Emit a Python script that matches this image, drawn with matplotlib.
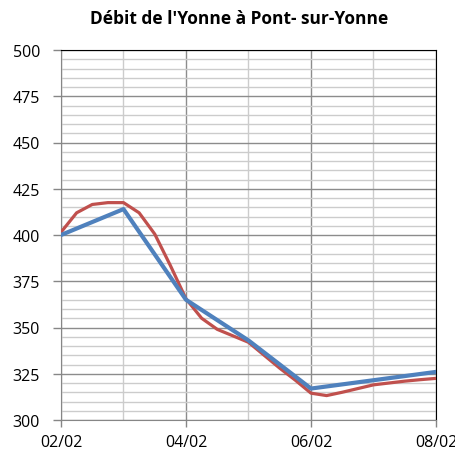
import numpy as np
import matplotlib.pyplot as plt
from matplotlib.ticker import MultipleLocator

# days since 02/02
day_labels = ["02/02", "04/02", "06/02", "08/02"]

# daily series (blue)
blue_days = [0, 1, 2, 3, 4, 5, 6]
blue_flow = [400, 414, 365, 343, 317, 321.5, 326]

# 6-hourly series (red)
red_days = [0, 0.25, 0.5, 0.75,
            1, 1.25, 1.5, 1.75,
            2, 2.25, 2.5, 2.75,
            3, 3.25, 3.5, 3.75,
            4, 4.25, 4.5, 4.75,
            5, 5.25, 5.5, 5.75,
            6]
red_flow = [401.5, 412, 416.5, 417.5,
            417.5, 412, 400.5, 383.5,
            365.5, 355, 349, 345.5,
            342, 335, 328, 321.5,
            314.5, 313.2, 315, 317,
            319, 320, 321, 321.8,
            322.5]

plt.rcParams['font.family'] = ['Open Sans', 'DejaVu Sans']

fig = plt.figure(figsize=(4.56, 4.52), dpi=100)
ax = fig.add_axes([61 / 456, 1 - 421 / 452, 375 / 456, 370 / 452])

ax.set_xlim(0, 6)
ax.set_ylim(300, 500)

ax.yaxis.set_major_locator(MultipleLocator(25))
ax.yaxis.set_minor_locator(MultipleLocator(5))
ax.xaxis.set_major_locator(MultipleLocator(2))
ax.xaxis.set_minor_locator(MultipleLocator(1))
ax.set_xticks([0, 2, 4, 6])
ax.set_xticklabels(day_labels)

ax.grid(which='minor', color='#cccccc', linewidth=1)
ax.grid(which='major', color='#8c8c8c', linewidth=1)
ax.set_axisbelow(True)

ax.plot(red_days, red_flow, color='#c0504d', linewidth=2.3, solid_joinstyle='round', zorder=3)
ax.plot(blue_days, blue_flow, color='#4f81bd', linewidth=3, solid_joinstyle='round', zorder=4)

ax.tick_params(which='major', axis='y', direction='out', length=6, width=1, color='#868686',
               labelsize=11.5, pad=9)
ax.tick_params(which='major', axis='x', direction='out', length=5, width=1, color='#868686',
               labelsize=11.5, pad=5)
ax.tick_params(which='minor', length=0)

for side in ['left', 'bottom']:
    ax.spines[side].set_color('#868686')
for side in ['top', 'right']:
    ax.spines[side].set_color('black')

fig.text(239 / 456, 1 - 19 / 452, "Débit de l'Yonne à Pont- sur-Yonne", ha='center', va='center',
         fontsize=12.5, fontweight='bold')

fig.savefig('out.png', dpi=100)
